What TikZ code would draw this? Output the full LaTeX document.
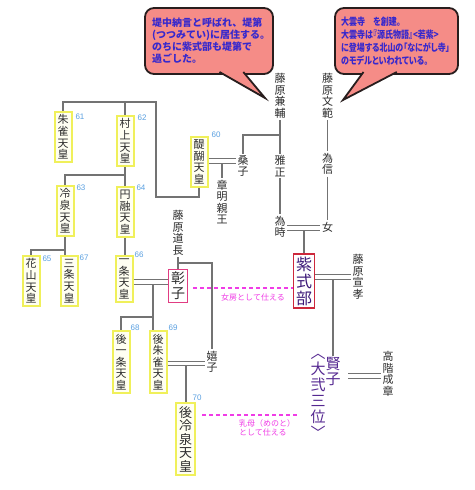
\documentclass[tikz,border=0pt]{standalone}
\usepackage{fontspec}
\usepackage{graphicx}
\newfontfamily\jp{Noto Sans CJK JP}
\newfontfamily\jpp[RawFeature=+palt]{Noto Sans CJK JP}
\newfontfamily\nf{Liberation Sans}
\definecolor{lngray}{RGB}{115,115,115}
\definecolor{txtgray}{RGB}{45,45,45}
\definecolor{empyellow}{RGB}{240,240,90}
\definecolor{empfill}{RGB}{255,255,242}
\definecolor{numblue}{RGB}{90,160,225}
\definecolor{ladycol}{RGB}{240,60,230}
\definecolor{bubfill}{RGB}{245,140,135}
\definecolor{bubline}{RGB}{40,30,30}
\definecolor{bubtext}{RGB}{55,40,205}
\definecolor{murtext}{RGB}{60,25,120}
\definecolor{murbox}{RGB}{205,40,60}
\definecolor{shobox}{RGB}{225,60,130}
\definecolor{kentext}{RGB}{85,40,145}
\tikzset{
  nm/.style={font=\jp\fontsize{11}{11.6}\selectfont, align=center, inner sep=1.5pt, text=txtgray},
  emp/.style={nm, draw=empyellow, line width=2pt, fill=empfill, inner xsep=3pt, inner ysep=3pt},
  numlab/.style={font=\nf\fontsize{8}{8}\selectfont, text=numblue, inner sep=0pt},
  ln/.style={draw=lngray, line width=1.1pt},
  dbl/.style={draw=lngray, line width=1pt, double=white, double distance=3.5pt},
  ladyline/.style={draw=ladycol, line width=1.2pt, dash pattern=on 4pt off 3pt},
  ladytext/.style={font=\jp\fontsize{8}{9}\selectfont, text=ladycol, inner sep=0pt},
  bubble/.style={draw=bubline, line width=1.8pt, fill=bubfill},
}
\begin{document}
\begin{tikzpicture}[x=1pt,y=-1pt]
\useasboundingbox (0,0) rectangle (474,490);
\fill[white] (0,0) rectangle (474,490);

% speech bubbles
\draw[bubble, rounded corners=9pt] (145,8) rectangle (273,74);
\filldraw[bubble, line join=miter] (219.5,72) -- (265,98) -- (243.3,72);
\draw[bubble, rounded corners=9pt] (335,8) rectangle (458,74);
\filldraw[bubble, line join=miter] (363.5,72) -- (343,100) -- (396.8,72);
\node[anchor=north west, align=left, inner sep=0pt, text=bubtext,
  font=\jp\bfseries\fontsize{10}{12}\selectfont] (b1) at (152,18)
  {堤中納言と呼ばれ、堤第\\(つつみてい)に居住する。\\のちに紫式部も堤第で\\過ごした。};
\node[anchor=north west, align=left, inner sep=0pt, text=bubtext,
  font=\jpp\bfseries\fontsize{10}{13}\selectfont] (b2) at (341,17)
  {\scalebox{0.8}[1]{大雲寺　を創建。}\\
   \scalebox{0.8}[1]{大雲寺は『源氏物語』<若紫>}\\
   \scalebox{0.8}[1]{に登場する北山の「なにがし寺」}\\
   \scalebox{0.8}[1]{のモデルといわれている。}};

% emperors
\node[emp] (suzaku) at (63,137) {朱\\雀\\天\\皇};
\node[numlab] (n61) at (80,117) {61};
\node[emp] (murakami) at (125,141) {村\\上\\天\\皇};
\node[numlab] (n62) at (142,118) {62};
\node[emp] (daigo) at (199,162) {醍\\醐\\天\\皇};
\node[numlab] (n60) at (216,135) {60};
\node[emp] (reizei) at (65,211) {冷\\泉\\天\\皇};
\node[numlab] (n63) at (81,188) {63};
\node[emp] (enyu) at (125,212) {円\\融\\天\\皇};
\node[numlab] (n64) at (141,188) {64};
\node[emp] (kazan) at (31,281) {花\\山\\天\\皇};
\node[numlab] (n65) at (47,259) {65};
\node[emp] (sanjo) at (69,281) {三\\条\\天\\皇};
\node[numlab] (n67) at (84,258) {67};
\node[emp] (ichijo) at (124,279) {一\\条\\天\\皇};
\node[numlab] (n66) at (139,255) {66};
\node[emp] (goichijo) at (121,362) {後\\一\\条\\天\\皇};
\node[numlab] (n68) at (135,328) {68};
\node[emp] (gosuzaku) at (158,362) {後\\朱\\雀\\天\\皇};
\node[numlab] (n69) at (173,328) {69};
\node[emp, font=\jp\fontsize{13}{13.5}\selectfont] (goreizei) at (185.5,439) {後\\冷\\泉\\天\\皇};
\node[numlab] (n70) at (197,398) {70};

% boxed ladies
\node[nm, draw=shobox, line width=1.5pt, fill=white, inner xsep=2.5pt, inner ysep=2.5pt,
  font=\jp\fontsize{14}{15}\selectfont] (shoshi) at (178,286) {彰\\子};
\node[nm, draw=murbox, line width=1.5pt, fill=white, inner xsep=2.5pt, inner ysep=2.5pt,
  text=murtext, font=\jp\fontsize{16}{17}\selectfont] (murasaki) at (304,281) {紫\\式\\部};

% plain names
\node[nm] (kanesuke) at (280,96) {藤\\原\\兼\\輔};
\node[nm] (fuminori) at (327.5,96) {藤\\原\\文\\範};
\node[nm] (kuwako) at (243,166) {桑\\子};
\node[nm] (masatada) at (280,166) {雅\\正};
\node[nm] (tamenobu) at (327.5,164) {為\\信};
\node[nm] (akiakira) at (222,202) {章\\明\\親\\王};
\node[nm] (tametoki) at (280,227) {為\\時};
\node[nm] (onna) at (327.5,227) {女};
\node[nm] (michinaga) at (178,233) {藤\\原\\道\\長};
\node[nm] (nobutaka) at (358,277) {藤\\原\\宣\\孝};
\node[nm] (kishi) at (212,362) {嬉\\子};
\node[nm, text=kentext, font=\jp\fontsize{15}{15}\selectfont] (kenshi) at (333,372) {賢\\子};
\node[nm, text=kentext, font=\jp\fontsize{15}{16}\selectfont, anchor=north] (daini) at (318,352) {︿\\大\\弐\\三\\位\\﹀};
\node[nm] (nariakira) at (388,374) {高\\階\\成\\章};

% connectors
\coordinate (d1) at (156,197);
\coordinate (d2) at (156,102);
\draw[ln] (daigo.south) |- (d1) -- (d2) -| (suzaku.north);
\draw[ln] (murakami.north) -- (murakami.north |- d2);
\coordinate (m1) at (125,175);
\draw[ln] (murakami.south) -- (enyu.north);
\draw[ln] (m1) -| (reizei.north);
\coordinate (r1) at (65,250);
\draw[ln] (reizei.south) -- (r1) -| (kazan.north);
\draw[ln] (r1) -- (r1 |- sanjo.north);
\draw[ln] (enyu.south) -- (enyu.south |- ichijo.north);

\coordinate (i0) at (0,282);
\draw[dbl] (ichijo.east |- i0) -- (shoshi.west |- i0);
\coordinate (i1) at (153,284);
\coordinate (i2) at (153,317);
\draw[ln] (i1) -- (i1 |- gosuzaku.north);
\draw[ln] (i2) -| (goichijo.north);

\coordinate (mi1) at (178,263);
\draw[ln] (michinaga.south) -- (shoshi.north);
\draw[ln] (mi1) -| (kishi.north);

\coordinate (g0) at (0,363.5);
\draw[dbl] (gosuzaku.east |- g0) -- (kishi.west |- g0);
\coordinate (g1) at (186,365.5);
\draw[ln] (g1) -- (g1 |- goreizei.north);

\coordinate (k0) at (0,161);
\draw[dbl] (daigo.east |- k0) -- (kuwako.west |- k0);
\coordinate (a1) at (222,163);
\draw[ln] (a1) -- (akiakira.north);

\coordinate (k1) at (280,135);
\draw[ln] (kanesuke.south) -- (masatada.north);
\draw[ln] (k1) -| (kuwako.north);
\draw[ln] (masatada.south) -- (tametoki.north);
\draw[ln] (fuminori.south) -- (tamenobu.north);
\draw[ln] (tamenobu.south) -- (onna.north);

\coordinate (t0) at (0,228);
\draw[dbl] (tametoki.east |- t0) -- (onna.west |- t0);
\coordinate (t1) at (304,230);
\draw[ln] (t1) -- (t1 |- murasaki.north);

\coordinate (s0) at (0,277);
\draw[dbl] (murasaki.east |- s0) -- (nobutaka.west |- s0);
\coordinate (s1) at (333,279);
\draw[ln] (s1) -- (s1 |- kenshi.north);

\coordinate (e0) at (0,376);
\draw[dbl] ([xshift=6pt]kenshi.east |- e0) -- (nariakira.west |- e0);

% service relations
\coordinate (h0) at (0,288);
\draw[ladyline] ([xshift=5pt]shoshi.east |- h0) -- (murasaki.west |- h0);
\coordinate (h1) at (0,415);
\coordinate (h2) at (297,415);
\draw[ladyline] ([xshift=6pt]goreizei.east |- h1) -- (h2);
\node[ladytext] (lab1) at (253,297) {女房として仕える};
\node[ladytext, anchor=north west, align=left] (lab2) at (239,419) {乳母（めのと）\\として仕える};
\end{tikzpicture}
\end{document}
